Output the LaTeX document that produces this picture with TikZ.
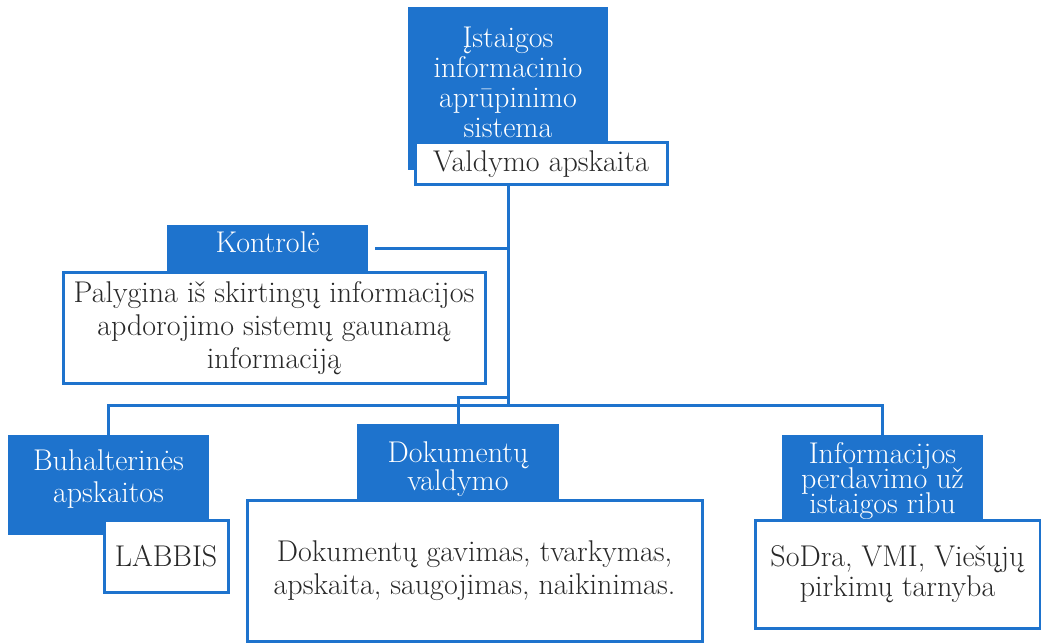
\documentclass[tikz,border=0pt]{standalone}
\usepackage{fontspec}
\usepackage{tikz}
\usetikzlibrary{backgrounds}
\definecolor{orgblue}{RGB}{30,115,205}
\definecolor{orgtext}{RGB}{40,40,40}
\newcommand{\orgfont}[1]{\fontsize{30}{#1}\selectfont}
\lineskiplimit=-30pt

\begin{document}
\begin{tikzpicture}[x=1pt,y=-1pt,
		head/.style={fill=orgblue,text=white,inner sep=0pt,align=center},
		infobox/.style={draw=orgblue,line width=3pt,fill=white,text=orgtext,inner sep=0pt,align=center},
		link/.style={draw=orgblue,line width=3pt}]
		\useasboundingbox (0,0) rectangle (1041,644);
		% Blue headers
		\node[head,minimum width=200pt,text height=131pt,text depth=32pt,font=\orgfont{30}] (titel) at (508,88.5) {Įstaigos\\informacinio\\aprūpinimo\\sistema};
		\node[head,minimum width=201pt,text height=28pt,text depth=20pt,font=\orgfont{30}] (kontrole) at (267.5,249) {Kontrolė};
		\node[head,minimum width=201pt,text height=67pt,text depth=33pt,font=\orgfont{32}] (buh) at (108.5,485) {Buhalterinės\\apskaitos};
		\node[head,minimum width=202pt,text height=66pt,text depth=10pt,font=\orgfont{28}] (dok) at (458,462) {Dokumentų\\valdymo};
		\node[head,minimum width=201pt,text height=78pt,text depth=12pt,font=\orgfont{25}] (info) at (882.5,480) {Informacijos\\perdavimo už\\istaigos ribu};
		% White boxes
		\node[infobox,minimum width=252pt,minimum height=42pt,font=\orgfont{33}] (valdymo) at (541,164) {Valdymo apskaita};
		\node[infobox,minimum width=422pt,minimum height=110pt,font=\orgfont{33}] (palygina) at (274,328) {Palygina iš skirtingų informacijos\\apdorojimo sistemų gaunamą\\informaciją};
		\node[infobox,minimum width=124pt,minimum height=72pt,font=\orgfont{33}] (labbis) at (166,556) {LABBIS};
		\node[infobox,minimum width=455pt,minimum height=141pt,font=\orgfont{33}] (dokdarbai) at (474.5,570.5) {Dokumentų gavimas, tvarkymas,\\apskaita, saugojimas, naikinimas.};
		\node[infobox,minimum width=285pt,minimum height=108pt,font=\orgfont{30}] (institucijos) at (897.5,574) {SoDra, VMI, Viešųjų\\pirkimų tarnyba};
		% Connectors
		\coordinate (bus) at (508,405);
		\coordinate (bend) at (508,397);
		\begin{scope}[on background layer]
			\draw[link] (titel.south) -- (bus) -| (buh.north);
			\draw[link] (bus) -| (info.north);
			\draw[link] (bend) -| (dok.north);
			\draw[link,shorten >=7pt] (titel.south) |- (kontrole.east);
		\end{scope}
	\end{tikzpicture}
\end{document}
